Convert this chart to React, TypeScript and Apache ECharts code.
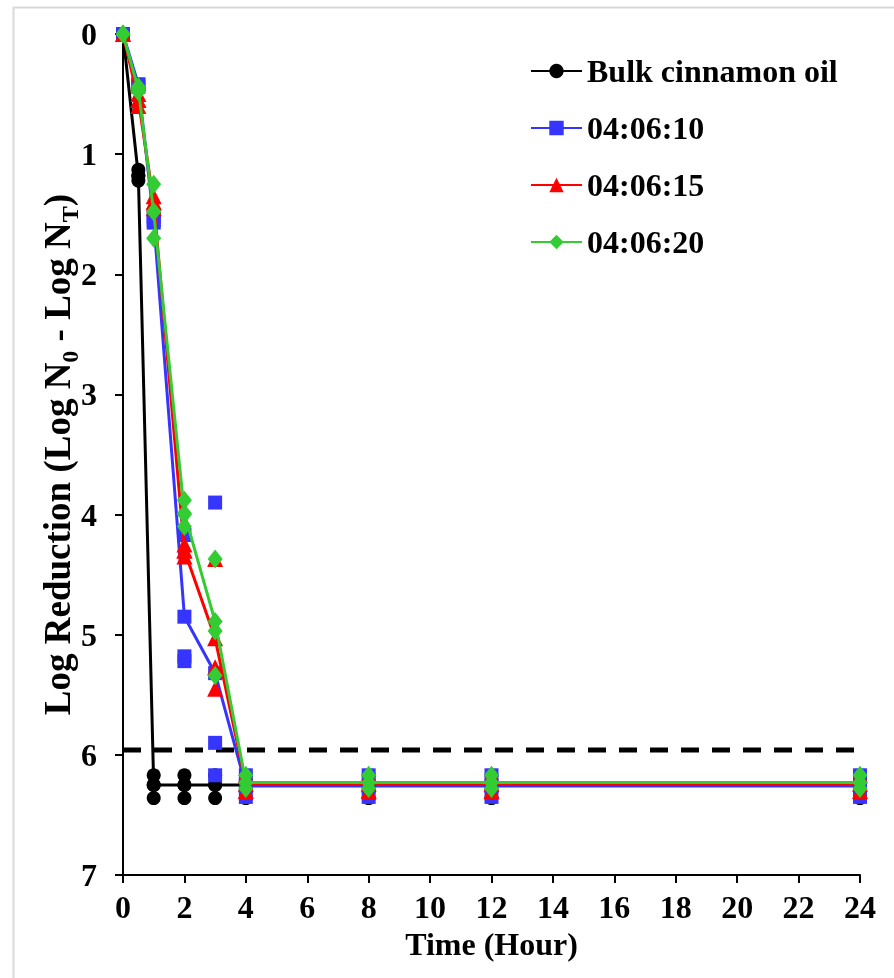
import React, { useEffect, useRef } from "react";
import * as echarts from "echarts";

const times = [0, 0.5, 1, 2, 3, 4, 8, 12, 24];
const seriesNames = ["Bulk cinnamon oil", "04:06:10", "04:06:15", "04:06:20"];

const bulkMean = [0, 1.18, 6.25, 6.25, 6.25, 6.25, 6.25, 6.25, 6.25];
const blueMean = [0, 0.42, 1.55, 4.85, 5.32, 6.26, 6.26, 6.26, 6.26];
const redMean = [0, 0.55, 1.4, 4.3, 5.03, 6.24, 6.24, 6.24, 6.24];
const greenMean = [0, 0.46, 1.48, 3.99, 4.89, 6.23, 6.23, 6.23, 6.23];

// replicate values per time point
const bulkReps = [[0], [1.13, 1.18, 1.22], [6.17, 6.25, 6.36], [6.17, 6.25, 6.36], [6.17, 6.25, 6.36], [6.17, 6.36], [6.17, 6.36], [6.17, 6.36], [6.17, 6.36]];
const blueReps = [[0], [0.42, 0.44], [1.52, 1.57], [4.17, 5.18, 5.22], [3.9, 5.9, 6.17], [6.17, 6.35], [6.17, 6.35], [6.17, 6.35], [6.17, 6.35]];
const redReps = [[0], [0.5, 0.55, 0.6], [1.35, 1.4, 1.45], [4.25, 4.3, 4.35], [4.37, 5.27, 5.45], [6.17, 6.3], [6.17, 6.3], [6.17, 6.3], [6.17, 6.3]];
const greenReps = [[0], [0.44, 0.48], [1.25, 1.48, 1.7], [3.88, 4.0, 4.1], [4.37, 4.97, 5.34], [6.17, 6.28], [6.17, 6.28], [6.17, 6.28], [6.17, 6.28]];

const detectionLimit = 5.96;
const limitX = [0, 25.15];

const colors = ["#000000", "#3535ff", "#ff0000", "#33cc33"];
const symbols = ["circle", "rect", "triangle", "diamond"];
const symbolSizes: any[] = [14, 14, 16, [15, 19]];

const FONT = '"Times New Roman", "Liberation Serif", serif';

export default function App() {
  const ref = useRef<HTMLDivElement>(null);
  useEffect(() => {
    if (!ref.current) return;
    const chart = echarts.init(ref.current, null, { renderer: "svg" });
    const means = [bulkMean, blueMean, redMean, greenMean];
    const reps = [bulkReps, blueReps, redReps, greenReps];
    const series: any[] = [
      {
        name: "limit",
        type: "line",
        data: limitX.map((x) => [x, detectionLimit]),
        symbol: "none",
        clip: false,
        silent: true,
        lineStyle: { color: "#000", width: 5, type: [18, 13] },
        z: 1,
      },
    ];
    means.forEach((m, i) => {
      series.push({
        name: seriesNames[i],
        type: "line",
        data: times.map((t, j) => [t, m[j]]),
        symbol: symbols[i],
        symbolSize: symbolSizes[i],
        showSymbol: true,
        itemStyle: { color: colors[i] },
        lineStyle: { color: colors[i], width: 3 },
        z: 2 + i,
      });
      const pts: number[][] = [];
      reps[i].forEach((arr, j) => arr.forEach((v) => pts.push([times[j], v])));
      series.push({
        name: seriesNames[i] + " reps",
        type: "scatter",
        data: pts,
        symbol: symbols[i],
        symbolSize: symbolSizes[i],
        itemStyle: { color: colors[i], opacity: 1 },
        z: 2 + i,
      });
    });

    chart.setOption({
      animation: false,
      textStyle: { fontFamily: FONT },
      graphic: [
        {
          type: "rect",
          left: 11,
          top: 5,
          shape: { width: 1000, height: 1000 },
          style: { fill: "none", stroke: "#d9d9d9", lineWidth: 2 },
          silent: true,
        },
      ],
      grid: { left: 123, right: 34, top: 34, bottom: 103 },
      legend: {
        data: seriesNames,
        orient: "vertical",
        left: 525,
        top: 50,
        itemWidth: 51,
        itemHeight: 18,
        itemGap: 25,
        textStyle: { fontSize: 32, fontWeight: "bold", color: "#000", fontFamily: FONT },
      },
      xAxis: {
        type: "value",
        min: 0,
        max: 24,
        interval: 2,
        name: "Time (Hour)",
        nameLocation: "middle",
        nameGap: 52,
        nameTextStyle: { fontSize: 32, fontWeight: "bold", color: "#000", fontFamily: FONT },
        axisLine: { show: true, onZero: false, lineStyle: { color: "#000", width: 2 } },
        axisTick: { show: true, length: 8, lineStyle: { color: "#000", width: 2 } },
        axisLabel: { fontSize: 32, fontWeight: "bold", color: "#000", margin: 16, fontFamily: FONT },
        splitLine: { show: false },
      },
      yAxis: {
        type: "value",
        inverse: true,
        min: 0,
        max: 7,
        interval: 1,
        name: "Log Reduction (Log N{sub|0} - Log N{sub|T})",
        nameLocation: "middle",
        nameRotate: 90,
        nameGap: 47,
        nameMoveOverlap: false,
        nameTextStyle: {
          fontSize: 37,
          fontWeight: "bold",
          color: "#000",
          fontFamily: FONT,
          rich: {
            sub: { fontSize: 24, fontWeight: "bold", color: "#000", fontFamily: FONT, verticalAlign: "bottom", padding: [0, 0, -6, 0] },
          },
        },
        axisLine: { show: true, onZero: false, lineStyle: { color: "#000", width: 2 } },
        axisTick: { show: true, length: 8, lineStyle: { color: "#000", width: 2 } },
        axisLabel: { fontSize: 32, fontWeight: "bold", color: "#000", margin: 26, fontFamily: FONT },
        splitLine: { show: false },
      },
      series,
    });
    return () => chart.dispose();
  }, []);
  return <div ref={ref} style={{ position: "fixed", left: 0, top: 0, width: 894, height: 978 }} />;
}
